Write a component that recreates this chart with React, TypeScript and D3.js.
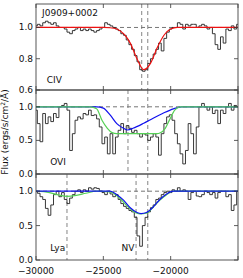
import React from 'react';
import * as d3 from 'd3';

// velocity grid of the spectra (km/s), one value every 200 km/s
const vStart = -30000;
const vStep = 200;

const civFlux = [
  1.01, 1.02, 1.01, 1.03, 1.04, 1.03, 1.02, 1.03, 1.01, 1.0, 1.0,
  0.99, 0.97, 0.96, 0.98, 0.99, 1.0, 0.98, 0.99, 0.98, 0.99,
  0.98, 0.97, 0.98, 0.99, 1.0, 1.03, 1.02, 1.01, 1.0, 0.99,
  0.98, 0.96, 0.95, 0.92, 0.89, 0.86, 0.82, 0.78, 0.73, 0.72,
  0.73, 0.77, 0.8, 0.83, 0.86, 0.9, 0.85, 0.93, 0.97, 0.99,
  1.0, 1.0, 1.03, 1.02, 0.99, 1.02, 1.01, 1.02, 1.02, 1.0,
  1.01, 1.02, 1.01, 0.99, 1.0, 0.96, 0.89, 0.86, 0.94, 0.9,
  0.99, 0.98, 1.01, 0.99, 1.02,
];

const oviFlux = [
  0.95, 0.75, 0.48, 0.9, 0.75, 0.85, 0.78, 0.9, 0.84, 1.0, 1.02,
  1.05, 0.95, 0.35, 0.6, 0.8, 0.85, 0.82, 0.9, 0.88, 0.95,
  0.87, 0.88, 0.82, 0.7, 0.45, 0.55, 0.3, 0.6, 0.3, 0.55,
  0.65, 0.75, 0.6, 0.72, 0.68, 0.62, 0.65, 0.6, 0.55, 0.6,
  0.58, 0.5, 0.55, 0.6, 0.55, 0.28, 0.6, 0.75, 0.85, 0.88,
  0.8, 0.6, 0.45, 0.3, 0.15, 0.35, 0.75, 0.6, 0.3, 0.7,
  1.0, 1.05, 1.0, 0.95, 1.0, 0.9, 0.95, 0.75, 0.95, 0.9,
  1.0, 1.05, 0.95, 1.02, 1.0,
];

const nvFlux = [
  1.0, 0.97, 0.92, 0.88, 0.75, 0.65, 0.8, 0.95, 1.0, 0.92, 0.98,
  0.88, 0.82, 0.9, 0.95, 1.0, 1.02, 0.98, 1.02, 1.0, 1.05,
  1.03, 1.05, 1.04, 1.0, 0.98, 0.95, 1.0, 0.96, 0.92, 0.95,
  0.88, 0.82, 0.78, 0.75, 0.72, 0.7, 0.62, 0.35, 0.2, 0.5,
  0.62, 0.7, 0.76, 0.8, 0.88, 0.9, 0.95, 0.98, 1.0, 0.98,
  1.02, 1.0, 1.05, 1.0, 1.02, 1.0, 0.88, 0.98, 1.0, 0.93,
  0.92, 0.95, 1.0, 0.98, 0.95, 0.98, 0.9, 0.98, 1.0, 1.0,
  0.92, 0.95, 0.72, 0.8, 1.0,
];

// fitted models: [velocity, flux]
const civRed: [number, number][] = [
  [-30000, 1.0], [-25000, 1.0], [-24500, 0.998], [-24000, 0.99], [-23500, 0.96],
  [-23000, 0.9], [-22500, 0.8], [-22000, 0.73], [-21500, 0.77], [-21000, 0.87],
  [-20500, 0.95], [-20000, 0.99], [-19500, 1.0], [-15000, 1.0],
];
const oviBlue: [number, number][] = [
  [-30000, 1.0], [-25500, 1.0], [-25000, 0.98], [-24500, 0.88], [-24000, 0.75],
  [-23500, 0.68], [-23200, 0.655], [-22800, 0.68], [-22000, 0.755], [-21300, 0.83],
  [-20600, 0.9], [-19800, 0.97], [-19200, 1.0], [-15000, 1.0],
];
const oviGreen: [number, number][] = [
  [-30000, 1.0], [-26000, 1.0], [-25500, 0.97], [-25100, 0.8], [-24700, 0.68],
  [-24350, 0.615], [-24000, 0.6], [-21000, 0.6], [-20800, 0.61], [-20400, 0.68],
  [-20050, 0.82], [-19700, 0.95], [-19300, 1.0], [-15000, 1.0],
];
const nvGreen: [number, number][] = [
  [-30000, 1.0], [-29000, 0.98], [-28300, 0.945], [-27700, 0.925], [-27000, 0.94],
  [-26300, 0.97], [-25500, 1.0], [-24500, 0.99], [-23800, 0.9], [-23200, 0.78],
  [-22650, 0.69], [-22300, 0.67], [-21800, 0.68], [-21300, 0.77], [-20800, 0.87],
  [-20300, 0.95], [-19800, 1.0], [-15000, 1.0],
];
const nvBlue: [number, number][] = [
  [-30000, 1.0], [-24500, 1.0], [-24000, 0.95], [-23500, 0.87], [-23000, 0.76],
  [-22500, 0.69], [-22200, 0.675], [-21800, 0.69], [-21300, 0.77], [-20800, 0.88],
  [-20300, 0.96], [-19800, 1.0], [-15000, 1.0],
];

const xTicks = [-30000, -25000, -20000, -15000];
const xTickLabels = ['\u221230000', '\u221225000', '\u221220000', ''];

const W = 243;
const H = 278;
const left = 36;
const right = 238;
const font = 'DejaVu Sans, sans-serif';

type Model = { pts: [number, number][]; color: string };
type Panel = {
  id: string;
  top: number;
  bottom: number;
  yDomain: [number, number];
  yTicks: number[];
  flux: number[];
  models: Model[];
  vlines: number[];
  labels: { text: string; v: number; y: number }[];
};

const panels: Panel[] = [
  {
    id: 'civ', top: 4, bottom: 90, yDomain: [0.6, 1.15], yTicks: [0.6, 0.8, 1.0],
    flux: civFlux,
    models: [{ pts: civRed, color: '#ee1111' }],
    vlines: [-22150, -21700],
    labels: [{ text: 'J0909+0002', v: -29550, y: 16 }, { text: 'CIV', v: -29200, y: 83 }],
  },
  {
    id: 'ovi', top: 90, bottom: 174, yDomain: [0, 1.25], yTicks: [0, 0.5, 1.0],
    flux: oviFlux,
    models: [{ pts: oviBlue, color: '#1111ee' }, { pts: oviGreen, color: '#55d055' }],
    vlines: [-23170, -21700],
    labels: [{ text: 'OVI', v: -28950, y: 165 }],
  },
  {
    id: 'nv', top: 174, bottom: 260, yDomain: [0, 1.25], yTicks: [0, 0.5, 1.0],
    flux: nvFlux,
    models: [{ pts: nvGreen, color: '#55d055' }, { pts: nvBlue, color: '#1111ee' }],
    vlines: [-27700, -22570, -21700],
    labels: [{ text: 'Lya', v: -28950, y: 251 }, { text: 'NV', v: -23650, y: 251 }],
  },
];

const x = d3.scaleLinear().domain([-30000, -15000]).range([left, right]);

function PanelView({ p, last }: { p: Panel; last: boolean }) {
  const y = d3.scaleLinear().domain(p.yDomain).range([p.bottom, p.top]);
  const spec = d3
    .line<number>()
    .x((d, i) => x(vStart + i * vStep))
    .y((d) => y(d))
    .curve(d3.curveStep);
  const model = d3
    .line<[number, number]>()
    .x((d) => x(d[0]))
    .y((d) => y(d[1]))
    .curve(d3.curveMonotoneX);
  const clipId = 'clip-' + p.id;
  return (
    <g>
      <defs>
        <clipPath id={clipId}>
          <rect x={left} y={p.top} width={right - left} height={p.bottom - p.top} />
        </clipPath>
      </defs>
      <g clipPath={`url(#${clipId})`}>
        <line x1={left} x2={right} y1={y(1)} y2={y(1)} stroke="#666" strokeWidth={0.9} strokeDasharray="4,3" />
        {p.vlines.map((v) => (
          <line key={v} x1={x(v)} x2={x(v)} y1={p.top} y2={p.bottom} stroke="#777" strokeWidth={0.9} strokeDasharray="4,3" />
        ))}
        <path d={spec(p.flux) || ''} fill="none" stroke="#222" strokeWidth={0.9} />
        {p.models.map((m, k) => (
          <path key={k} d={model(m.pts) || ''} fill="none" stroke={m.color} strokeWidth={1.2} />
        ))}
      </g>
      {/* ticks, inside on all sides */}
      {xTicks.map((t) => (
        <g key={t}>
          <line x1={x(t)} x2={x(t)} y1={p.bottom} y2={p.bottom - 4} stroke="#333" strokeWidth={0.8} />
          <line x1={x(t)} x2={x(t)} y1={p.top} y2={p.top + 4} stroke="#333" strokeWidth={0.8} />
        </g>
      ))}
      {p.yTicks.map((t) => (
        <g key={t}>
          <line x1={left} x2={left + 4} y1={y(t)} y2={y(t)} stroke="#333" strokeWidth={0.8} />
          <line x1={right} x2={right - 4} y1={y(t)} y2={y(t)} stroke="#333" strokeWidth={0.8} />
          <text x={left - 3} y={y(t) + 3} textAnchor="end" fontSize={9} fontFamily={font} fill="#111">
            {t.toFixed(1)}
          </text>
        </g>
      ))}
      <rect x={left} y={p.top} width={right - left} height={p.bottom - p.top} fill="none" stroke="#444" strokeWidth={0.9} />
      {p.labels.map((l) => (
        <text key={l.text} x={x(l.v)} y={l.y} fontSize={9} fontFamily={font} fill="#111">
          {l.text}
        </text>
      ))}
      {last &&
        xTicks.map((t, i) => (
          <text key={t} x={x(t)} y={274} textAnchor="middle" fontSize={9} fontFamily={font} fill="#111">
            {xTickLabels[i]}
          </text>
        ))}
    </g>
  );
}

export default function App() {
  return (
    <svg width={W} height={H} style={{ position: 'absolute', left: 0, top: 0, background: '#fff' }}>
      <rect width={W} height={H} fill="#fff" />
      {panels.map((p, i) => (
        <PanelView key={p.id} p={p} last={i === panels.length - 1} />
      ))}
      <text
        transform="translate(8,132) rotate(-90)"
        textAnchor="middle"
        fontSize={9}
        fontFamily={font}
        fill="#111"
      >
        Flux (ergs/s/cm<tspan dy={-3} fontSize={6}>2</tspan>
        <tspan dy={3}>/Å)</tspan>
      </text>
    </svg>
  );
}
